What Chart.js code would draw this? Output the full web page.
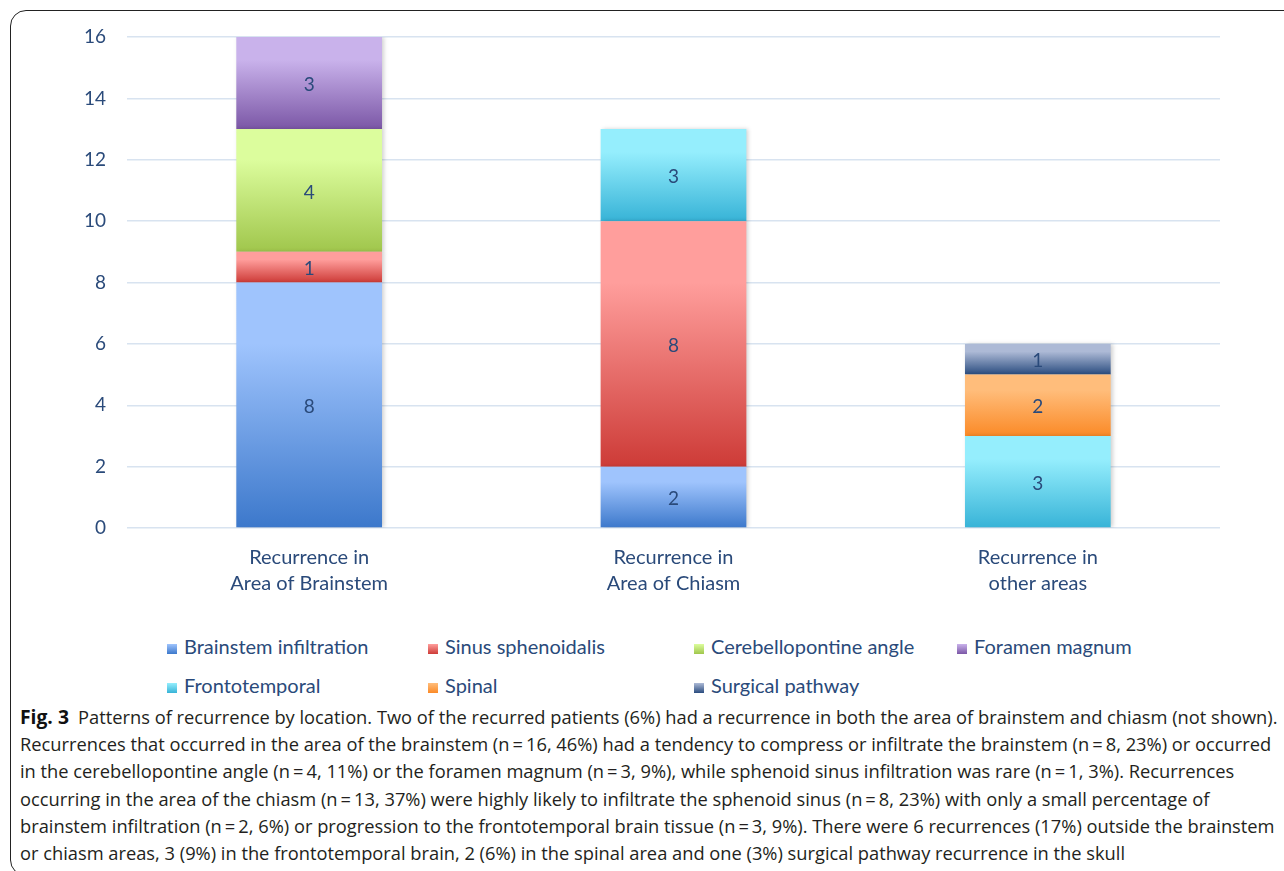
<!DOCTYPE html>
<html>
<head>
<meta charset="utf-8">
<script src="https://cdn.jsdelivr.net/npm/chart.js@4.4.1/dist/chart.umd.min.js"></script>
<style>
  html, body { margin: 0; padding: 0; background: #fff; }
  body { width: 1284px; height: 871px; position: relative; overflow: hidden; }
  #frame {
    position: absolute; left: 10px; top: 10px; width: 1400px; height: 866px;
    border: 1.5px solid #222; border-radius: 16px; box-sizing: border-box;
  }
  #wrap { position: absolute; left: 0; top: 0; width: 1284px; height: 610px; }
  #legend { position: absolute; left: 0; top: 0; font-family: Lato, "Noto Sans", sans-serif;
    font-size: 20px; color: #2a4a7a; }
  .item { position: absolute; white-space: nowrap; line-height: 20px; }
  .item i { display: inline-block; width: 10px; height: 10px; margin-right: 7px; vertical-align: 0px; }
  #caption { position: absolute; left: 20px; top: 704px; font-family: "Open Sans", "Noto Sans", sans-serif;
    font-size: 18px; line-height: 27.2px; color: #231f20; }
  #caption div { white-space: nowrap; transform-origin: left center; }
  #caption b { font-weight: 700; font-size: 19px; margin-right: 9px; color: #111; }
</style>
</head>
<body>
<div id="frame"></div>
<div id="wrap"><canvas id="recurrenceChart" width="1284" height="610"></canvas></div>
<div id="legend"></div>
<div id="caption">
  <div><b>Fig. 3</b>Patterns of recurrence by location. Two of the recurred patients (6%) had a recurrence in both the area of brainstem and chiasm (not shown).</div>
  <div>Recurrences that occurred in the area of the brainstem (n&#8201;=&#8201;16, 46%) had a tendency to compress or infiltrate the brainstem (n&#8201;=&#8201;8, 23%) or occurred</div>
  <div>in the cerebellopontine angle (n&#8201;=&#8201;4, 11%) or the foramen magnum (n&#8201;=&#8201;3, 9%), while sphenoid sinus infiltration was rare (n&#8201;=&#8201;1, 3%). Recurrences</div>
  <div>occurring in the area of the chiasm (n&#8201;=&#8201;13, 37%) were highly likely to infiltrate the sphenoid sinus (n&#8201;=&#8201;8, 23%) with only a small percentage of</div>
  <div>brainstem infiltration (n&#8201;=&#8201;2, 6%) or progression to the frontotemporal brain tissue (n&#8201;=&#8201;3, 9%). There were 6 recurrences (17%) outside the brainstem</div>
  <div>or chiasm areas, 3 (9%) in the frontotemporal brain, 2 (6%) in the spinal area and one (3%) surgical pathway recurrence in the skull</div>
</div>
<script>
// categories and stacked series
const categories = [
  ['Recurrence in', 'Area of Brainstem'],
  ['Recurrence in', 'Area of Chiasm'],
  ['Recurrence in', 'other areas']
];
const seriesNames = ['Brainstem infiltration', 'Sinus sphenoidalis', 'Cerebellopontine angle',
  'Foramen magnum', 'Frontotemporal', 'Spinal', 'Surgical pathway'];
const brainstemInfiltration = [8, 2, null];
const sinusSphenoidalis = [1, 8, null];
const cerebellopontineAngle = [4, null, null];
const foramenMagnum = [3, null, null];
const frontotemporal = [null, 3, 3];
const spinal = [null, null, 2];
const surgicalPathway = [null, null, 1];
const yTicks = [0, 2, 4, 6, 8, 10, 12, 14, 16];

const seriesValues = [brainstemInfiltration, sinusSphenoidalis, cerebellopontineAngle,
  foramenMagnum, frontotemporal, spinal, surgicalPathway];

// light (top) -> dark (bottom) for each series
const shades = [
  ['#9fc4fd', '#3c78cb'],
  ['#ff9e9c', '#cd3b37'],
  ['#dcfd9d', '#a0c64c'],
  ['#c9b2eb', '#7b57a6'],
  ['#95eefd', '#37b3d7'],
  ['#ffbd7b', '#fb8a27'],
  ['#adbad6', '#2a4c7f']
];
const textBlue = '#2a4a7a';

function segmentFill(ctx) {
  const i = ctx.datasetIndex;
  const chart = ctx.chart;
  if (ctx.type !== 'data' || !chart.chartArea || !chart.scales.y) return shades[i][1];
  const j = ctx.dataIndex;
  let start = 0;
  for (let k = 0; k < i; k++) start += seriesValues[k][j] || 0;
  const v = seriesValues[i][j] || 0;
  const y = chart.scales.y;
  const top = y.getPixelForValue(start + v);
  const bot = y.getPixelForValue(start);
  if (bot - top < 1) return shades[i][1];
  const g = chart.ctx.createLinearGradient(0, top, 0, bot);
  g.addColorStop(0, shades[i][0]);
  g.addColorStop(0.25, shades[i][0]);
  g.addColorStop(1, shades[i][1]);
  return g;
}

const segmentLabels = {
  id: 'segmentLabels',
  afterDatasetsDraw(chart) {
    const c = chart.ctx;
    c.save();
    c.font = '19px Lato, "Noto Sans", sans-serif';
    c.fillStyle = textBlue;
    c.textAlign = 'center';
    c.textBaseline = 'middle';
    chart.data.datasets.forEach((ds, i) => {
      chart.getDatasetMeta(i).data.forEach((bar, j) => {
        const v = ds.data[j];
        if (!v) return;
        c.fillText(String(v), bar.x, (bar.y + bar.base) / 2 + 2);
      });
    });
    c.restore();
  }
};

const barShadow = {
  id: 'barShadow',
  beforeDatasetsDraw(chart) {
    const c = chart.ctx;
    c.save();
    c.shadowColor = 'rgba(0,0,0,0.18)';
    c.shadowBlur = 4;
    c.shadowOffsetX = 2;
  },
  afterDatasetsDraw(chart) { chart.ctx.restore(); }
};

new Chart(document.getElementById('recurrenceChart'), {
  type: 'bar',
  data: {
    labels: categories,
    datasets: seriesNames.map((name, i) => ({
      label: name,
      data: seriesValues[i],
      backgroundColor: segmentFill,
      borderWidth: 0,
      categoryPercentage: 1,
      barPercentage: 0.4
    }))
  },
  options: {
    responsive: false,
    animation: false,
    layout: { padding: { top: 37, right: 64, bottom: 0, left: 0 } },
    plugins: { legend: { display: false }, tooltip: { enabled: false } },
    scales: {
      x: {
        stacked: true,
        grid: { display: false },
        border: { display: false },
        ticks: { color: textBlue, padding: 8, font: { family: 'Lato, "Noto Sans", sans-serif', size: 20, lineHeight: 1.32 }, maxRotation: 0 },
        afterFit(s) { s.height = 82; }
      },
      y: {
        stacked: true,
        min: 0, max: 16,
        afterBuildTicks(s) { s.ticks = yTicks.map(v => ({ value: v })); },
        grid: { color: '#d8e3f0', lineWidth: 1.5, drawTicks: false },
        border: { display: false },
        ticks: { color: textBlue, padding: 21, font: { family: 'Lato, "Noto Sans", sans-serif', size: 19 } },
        afterFit(s) { s.width = 127; }
      }
    }
  },
  plugins: [barShadow, segmentLabels]
});

// legend rows laid out in fixed columns
const legendSlots = [[167, 646], [428, 646], [694, 646], [957, 646], [167, 685], [428, 685], [694, 685]];
const legend = document.getElementById('legend');
seriesNames.forEach((name, i) => {
  const el = document.createElement('div');
  el.className = 'item';
  el.style.left = legendSlots[i][0] + 'px';
  el.style.top = (legendSlots[i][1] - 10) + 'px';
  el.innerHTML = '<i style="background:linear-gradient(' + shades[i][0] + ',' + shades[i][1] + ')"></i>' + name;
  legend.appendChild(el);
});

// fit caption lines to the column width
const lines = document.querySelectorAll('#caption div');
const fitScale = 1258 / lines[0].scrollWidth;
lines.forEach(l => { l.style.transform = 'scaleX(' + fitScale + ')'; });
</script>
</body>
</html>
